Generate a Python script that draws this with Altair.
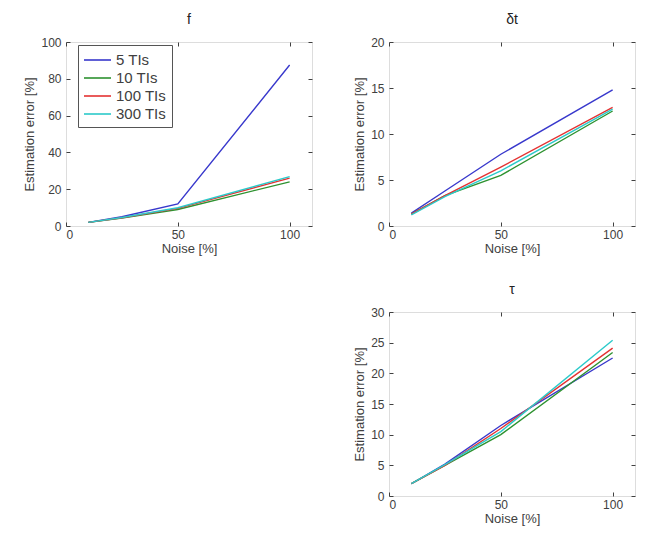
import altair as alt
import pandas as pd

series = ["5 TIs", "10 TIs", "100 TIs", "300 TIs"]
colors = ["#3838cc", "#2e9230", "#e43232", "#2ccaca"]
noise = [10, 25, 50, 100]

f_vals = {
    "5 TIs": [2.0, 5.0, 12.0, 87.5],
    "10 TIs": [2.0, 4.3, 9.0, 24.0],
    "100 TIs": [2.0, 4.5, 9.6, 26.0],
    "300 TIs": [2.0, 4.6, 9.9, 26.8],
}
dt_vals = {
    "5 TIs": [1.4, 3.8, 7.8, 14.8],
    "10 TIs": [1.3, 3.3, 5.5, 12.5],
    "100 TIs": [1.3, 3.3, 6.4, 12.9],
    "300 TIs": [1.2, 3.2, 6.0, 12.7],
}
tau_vals = {
    "5 TIs": [2.0, 5.2, 11.5, 22.5],
    "10 TIs": [2.0, 5.0, 10.0, 23.4],
    "100 TIs": [2.0, 5.0, 11.0, 24.1],
    "300 TIs": [2.0, 5.1, 10.5, 25.4],
}

W, H = 246, 184
FONT = "Liberation Sans"
GREY = "#404040"


def to_df(vals):
    rows = []
    for i, s in enumerate(series):
        for x, y in zip(noise, vals[s]):
            rows.append({"noise": x, "err": y, "series": s, "idx": i})
    return pd.DataFrame(rows)


def axis_style(visible=True):
    c = GREY if visible else "transparent"
    return dict(domain=False, grid=False, tickSize=4, offset=-4, tickColor=c,
                labelColor=c, labelFont=FONT, labelFontSize=12,
                titleFont=FONT, titleFontSize=13, titleFontWeight="normal",
                titleColor=c)


def panel(vals, title, ymax, ystep, legend, visible=True):
    df = to_df(vals)
    xs = alt.Scale(domain=[0, 110], nice=False, zero=False)
    ys = alt.Scale(domain=[0, ymax], nice=False)
    yticks = list(range(0, ymax + 1, ystep))
    common = axis_style(visible)
    leg = alt.Legend(title=None, orient="none", legendX=12, legendY=3,
                     symbolType="M-1,0H2", symbolSize=324, symbolStrokeWidth=1.6,
                     symbolFillColor="transparent",
                     labelFont=FONT, labelFontSize=15, labelColor=GREY, labelOffset=13,
                     strokeColor="#555555", padding=5, rowPadding=0,
                     fillColor="white") if legend else None
    lines = alt.Chart(df).mark_line(strokeWidth=1.4, opacity=1 if visible else 0).encode(
        x=alt.X("noise:Q", scale=xs,
                axis=alt.Axis(values=[0, 50, 100], title="Noise [%]", labelPadding=3,
                              titlePadding=2, **common)),
        y=alt.Y("err:Q", scale=ys,
                axis=alt.Axis(values=yticks, title="Estimation error [%]",
                              labelPadding=5, titlePadding=4, **common)),
        color=alt.Color("series:N", scale=alt.Scale(domain=series, range=colors),
                        sort=series, legend=leg),
        order=alt.Order("idx:Q"),
    )
    tc = GREY if visible else "transparent"
    frame = alt.Chart(df).mark_point(opacity=0).encode(
        x=alt.X("noise:Q", scale=xs,
                axis=alt.Axis(orient="top", values=[0, 50, 100], labels=False,
                              title=None, domain=False, grid=False, tickSize=4,
                              offset=-4, tickColor=tc)),
        y=alt.Y("err:Q", scale=ys,
                axis=alt.Axis(orient="right", values=yticks, labels=False,
                              title=None, domain=False, grid=False, tickSize=4,
                              offset=-4, tickColor=tc)),
    )
    props = dict(width=W, height=H)
    if visible:
        props["title"] = alt.TitleParams(title, font=FONT, fontSize=14, fontWeight="normal",
                                         color="#222222", offset=9)
    else:
        props["view"] = alt.ViewBackground(stroke=None)
    return alt.layer(lines, frame).resolve_axis(
        x="independent", y="independent").properties(**props)


f_chart = panel(f_vals, "f", 100, 20, True)
dt_chart = panel(dt_vals, "δt", 20, 5, False)
tau_chart = panel(tau_vals, "τ", 30, 5, False)
placeholder = panel(f_vals, "", 100, 20, False, visible=False)

top = alt.hconcat(f_chart, dt_chart, spacing=40)
bottom = alt.hconcat(placeholder, tau_chart, spacing=40)

chart = alt.vconcat(top, bottom, spacing=26).configure_view(
    stroke="#555555", strokeWidth=1
).configure(background="white",
            padding={"left": 15, "top": 4, "right": 0, "bottom": 0})

chart.save("out.html", embed_options={"renderer": "svg", "actions": False})
